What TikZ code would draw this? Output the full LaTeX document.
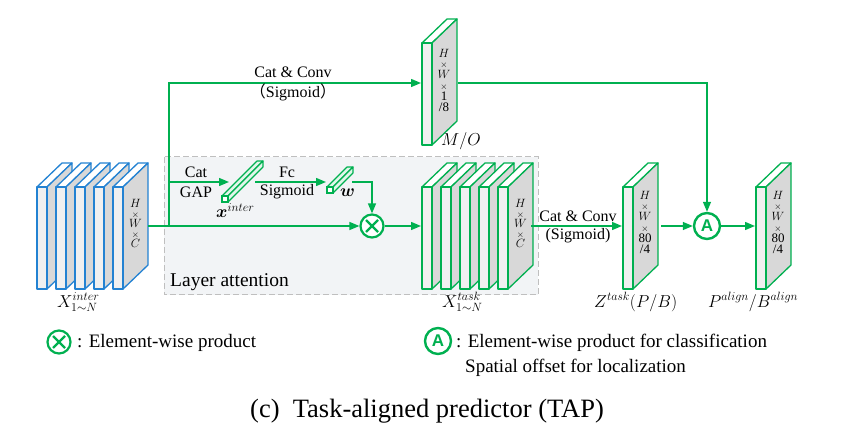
\documentclass[tikz,border=0pt]{standalone}
\usepackage{amsmath}
\usepackage{fontspec}
\setmainfont{Liberation Serif}
\newfontfamily\cjk{Noto Sans CJK SC}
\newfontfamily\hvb{Liberation Sans}
\usetikzlibrary{arrows.meta}
\definecolor{G}{RGB}{0,176,80}
\definecolor{B}{RGB}{35,130,210}
\definecolor{sidegray}{RGB}{216,216,216}
\definecolor{frontgray}{RGB}{240,240,240}
\definecolor{boxfill}{RGB}{242,244,246}
\newcommand{\fplate}[3]{%
  \filldraw[draw=#3,fill=white,line width=1.3pt,line join=round] (#1,#2) -- ++(25,-24) -- ++(10,0) -- ++(-25,24) -- cycle;
  \filldraw[draw=#3,fill=sidegray,line width=1.3pt,line join=round] ({#1+10},#2) -- ++(25,-24) -- ++(0,102) -- ++(-25,24) -- cycle;
  \filldraw[draw=#3,fill=frontgray,line width=1.3pt,line join=round] (#1,#2) rectangle ++(10,102);
}
\newcommand{\vbar}[4]{%
  \filldraw[draw=G,fill=G!12,line width=1.1pt,line join=round] (#1,#2) -- ++(#4,-#4) -- ++(#3,0) -- ++(-#4,#4) -- cycle;
  \filldraw[draw=G,fill=G!12,line width=1.1pt,line join=round] ({#1+#3},#2) -- ++(#4,-#4) -- ++(0,#3) -- ++(-#4,#4) -- cycle;
  \filldraw[draw=G,fill=white,line width=1.1pt] (#1,#2) rectangle ++(#3,#3);
}
\tikzset{
  flow/.style={draw=G,line width=1.4pt,-{Triangle[length=10pt,width=8pt]}},
  link/.style={draw=G,line width=1.4pt},
  lab/.style={font=\fontsize{16}{18}\selectfont,inner sep=0pt},
  mlab/.style={font=\fontsize{18}{20}\selectfont,inner sep=0pt,anchor=base west},
  txt/.style={font=\fontsize{19}{22}\selectfont,inner sep=0pt,anchor=base west},
  dimtxt/.style={font=\fontsize{13}{10}\selectfont,align=center,inner sep=0pt},
  dimtxtb/.style={font=\fontsize{13}{10.8}\selectfont,align=center,inner sep=0pt},
  otimes/.style={circle,draw=G,line width=2.2pt,minimum size=23pt,inner sep=0pt,fill=white,
    path picture={\draw[G,line width=2.2pt]
      ([shift={(-6pt,-6pt)}]path picture bounding box.center) -- ([shift={(6pt,6pt)}]path picture bounding box.center)
      ([shift={(-6pt,6pt)}]path picture bounding box.center) -- ([shift={(6pt,-6pt)}]path picture bounding box.center);}},
  abox/.style={circle,draw=G,line width=2.4pt,minimum size=26pt,inner sep=0pt,fill=white,text=G,
    font=\hvb\bfseries\fontsize{17}{17}\selectfont},
}
\begin{document}
\begin{tikzpicture}[x=1pt,y=-1pt]
\useasboundingbox (0,0) rectangle (843,438);
% layer attention box
\filldraw[fill=boxfill,draw=black!25,line width=1pt,dash pattern=on 6pt off 3pt] (164,157) rectangle (538,295);
\node[txt,font=\fontsize{19.5}{22}\selectfont] (la) at (170,287) {Layer attention};
% blue stack
\foreach \x in {37,56,75,94,113} {\fplate{\x}{187}{B}}
\node[dimtxt] (hwcB) at (135.5,223) {$H$\\$\scriptstyle\times$\\$W$\\$\scriptstyle\times$\\$C$};
\node[mlab] (xinter) at (57,307) {$X^{inter}_{1\sim N}$};
% green stack
\foreach \x in {422,441,460,479,498} {\fplate{\x}{187}{G}}
\node[dimtxt] (hwcG) at (520.5,223) {$H$\\$\scriptstyle\times$\\$W$\\$\scriptstyle\times$\\$C$};
\node[mlab] (xtask) at (442,307) {$X^{task}_{1\sim N}$};
% M/O plate
\fplate{422}{43}{G}
\node[dimtxtb] (hwmo) at (444,80) {$H$\\$\scriptstyle\times$\\$W$\\$\scriptstyle\times$\\1\\/8};
\node[mlab] (mo) at (441,146) {$M/O$};
% Z plate
\fplate{623}{187}{G}
\node[dimtxtb] (hwz) at (645,222) {$H$\\$\scriptstyle\times$\\$W$\\$\scriptstyle\times$\\80\\/4};
\node[mlab] (zlab) at (594,307) {$Z^{task}(P/B)$};
% P plate
\fplate{756}{187}{G}
\node[dimtxtb] (hwp) at (778,222) {$H$\\$\scriptstyle\times$\\$W$\\$\scriptstyle\times$\\80\\/4};
\node[mlab] (plab) at (708,307) {$P^{align}/B^{align}$};
% bars
\vbar{222}{196}{6}{35}
\node[mlab] (xv) at (216,218) {$\boldsymbol{x}^{inter}$};
\vbar{327}{187}{6}{20}
\node[mlab] (wv) at (340,197) {$\boldsymbol{w}$};
% operators
\node[otimes] (mul) at (372,226) {};
\node[abox] (A) at (707,226) {A};
% coordinates
\coordinate (blueout) at (148,226);
\coordinate (jn) at (169,226);
\coordinate (jgap) at (169,182);
\coordinate (xin) at (229,182);
\coordinate (xout) at (255,182);
\coordinate (win) at (326,182);
\coordinate (wout) at (352,182);
\coordinate (moin) at (421,83);
\coordinate (moout) at (458,83);
\coordinate (greenin) at (421,226);
\coordinate (greenout) at (531,226);
\coordinate (zin) at (622,226);
\coordinate (zout) at (661,226);
\coordinate (pin) at (755,226);
% connectors
\draw[flow] (blueout) -- (mul);
\draw[flow] (jn) |- (moin);
\draw[flow] (jgap) -- (xin);
\draw[flow] (xout) -- (win);
\draw[flow] (wout) -| (mul);
\draw[flow] (mul) -- (greenin);
\draw[flow] (greenout) -- (zin);
\draw[flow] (zout) -- (A);
\draw[flow] (A) -- (pin);
\draw[flow] (moout) -| (A);
% labels
\node[lab] (l1) at (196,172) {Cat};
\node[lab] (l2) at (196,192) {GAP};
\node[lab] (l3) at (287,172) {Fc};
\node[lab] (l4) at (287,192) {Sigmoid};
\node[lab] (l5) at (293,72) {Cat \& Conv};
\node[lab] (l6) at (293,92) {{\cjk （}Sigmoid{\cjk ）}};
\node[lab] (l7) at (578,216) {Cat \& Conv};
\node[lab] (l8) at (578,236) {(Sigmoid)};
% legend
\node[otimes] (legmul) at (59,342) {};
\node[txt] (legt1) at (77,347) {: Element-wise product};
\node[abox] (legA) at (438,341) {A};
\node[txt] (legt2) at (456,347) {: Element-wise product for classification};
\node[txt] (legt3) at (465,372) {Spatial offset for localization};
% caption
\node[inner sep=0pt,anchor=base,font=\fontsize{26.5}{30}\selectfont] (cap) at (427,417) {(c)\ \ Task-aligned predictor (TAP)};
\end{tikzpicture}
\end{document}
